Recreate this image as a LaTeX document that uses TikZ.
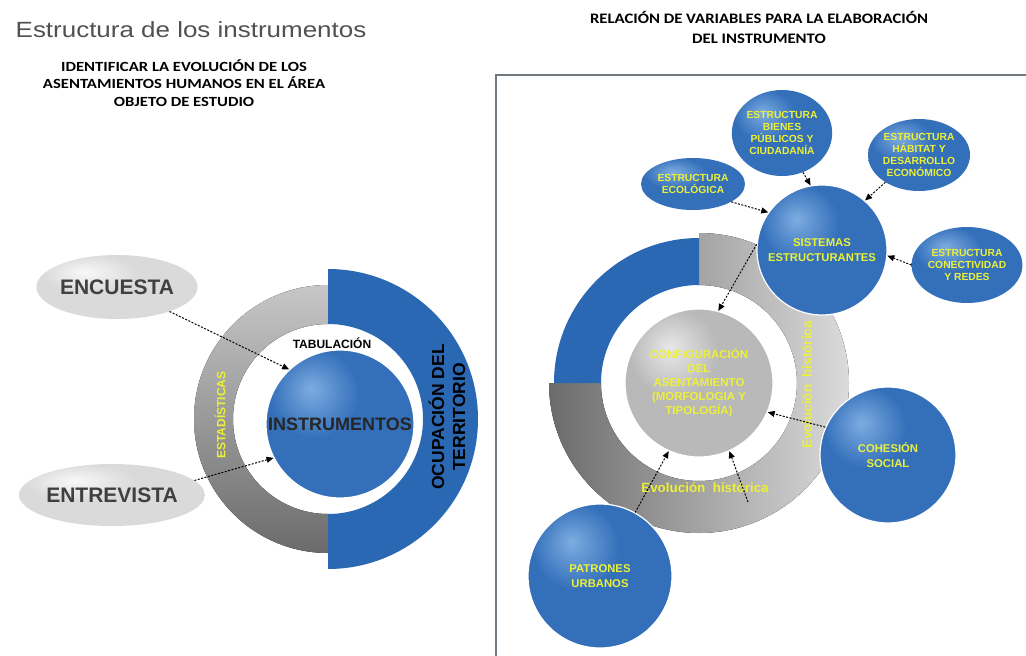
\documentclass[tikz,border=0pt]{standalone}
\usepackage{fontspec}
\setmainfont{Liberation Sans}
\newfontfamily\titlefont[FakeStretch=1.18]{Liberation Sans}
\newfontfamily\headfont[FakeStretch=1.19]{Carlito}
\newfontfamily\relfont[FakeStretch=1.15]{Carlito}
\usepackage{tikz}
\usetikzlibrary{arrows.meta,shapes.geometric}

\definecolor{ringblue}{RGB}{42,104,180}
\definecolor{sphlight}{RGB}{125,172,225}
\definecolor{sphmid}{RGB}{52,112,186}
\definecolor{sphdark}{RGB}{28,70,132}
\definecolor{pearllight}{RGB}{248,248,248}
\definecolor{pearlmid}{RGB}{218,218,218}
\definecolor{pearldark}{RGB}{170,170,170}
\definecolor{silverlight}{RGB}{232,232,232}
\definecolor{silvermid}{RGB}{185,185,185}
\definecolor{silverdark}{RGB}{140,140,140}
\definecolor{textyellow}{RGB}{236,240,56}
\definecolor{titlegray}{RGB}{80,80,80}
\definecolor{framegray}{RGB}{112,122,128}

\pgfdeclareradialshading{bluesphere}{\pgfpoint{-10bp}{12bp}}{color(0bp)=(sphlight);color(15bp)=(sphmid);color(36bp)=(sphmid);color(50bp)=(sphdark);color(100bp)=(sphdark)}
\pgfdeclareradialshading{pearl}{\pgfpoint{-10bp}{12bp}}{color(0bp)=(pearllight);color(15bp)=(pearlmid);color(36bp)=(pearlmid);color(52bp)=(pearldark);color(100bp)=(pearldark)}
\pgfdeclareradialshading{silversphere}{\pgfpoint{-10bp}{12bp}}{color(0bp)=(silverlight);color(15bp)=(silvermid);color(36bp)=(silvermid);color(52bp)=(silverdark);color(100bp)=(silverdark)}

\begin{document}
\begin{tikzpicture}[x=1pt,y=1pt,>={Triangle[length=7pt,width=6pt]},
  blue sphere/.style={circle,shading=bluesphere,draw=white,line width=1.2pt,inner sep=0pt,
    align=center,text=textyellow,font=\bfseries\fontsize{11.3}{15}\selectfont},
  gray sphere/.style={blue sphere,shading=silversphere},
  blue oval/.style={ellipse,shading=bluesphere,inner sep=0pt,align=center,
    text=textyellow,font=\bfseries\fontsize{10.3}{12}\selectfont},
  gray oval/.style={ellipse,shading=pearl,inner sep=0pt,text=black!75,
    font=\bfseries\fontsize{21}{24}\selectfont},
  ring text/.style={text=textyellow,font=\bfseries\fontsize{13.4}{15}\selectfont},
  link/.style={->,dash pattern=on 2pt off 1.5pt,line width=1pt}]

  \useasboundingbox (0,0) rectangle (1026,-656);

  % marco
  \draw[framegray,line width=1.5pt] (496,-656) -- (496,-75) -- (1026,-75);

  % titulos
  \node[font=\titlefont\fontsize{22}{24}\selectfont,text=titlegray] (titulo) at (191,-30) {Estructura de los instrumentos};
  \node[font=\headfont\bfseries\fontsize{14}{17.5}\selectfont,align=center] (objetivo) at (184,-83)
    {IDENTIFICAR LA EVOLUCIÓN DE LOS\\ASENTAMIENTOS HUMANOS EN EL ÁREA\\OBJETO DE ESTUDIO};
  \node[font=\relfont\bfseries\fontsize{14.5}{20}\selectfont,align=center] (relacion) at (759,-27)
    {RELACIÓN DE VARIABLES PARA LA ELABORACIÓN\\DEL INSTRUMENTO};

  % anillo izquierdo
  \fill[top color=black!22,bottom color=black!58] (328,-285) arc[start angle=90,end angle=270,radius=134]
    -- (328,-514) arc[start angle=270,end angle=90,radius=95] -- cycle;
  \fill[ringblue] (328,-569) arc[start angle=-90,end angle=90,radius=150]
    -- (328,-324) arc[start angle=90,end angle=-90,radius=95] -- cycle;

  % anillo derecho
  \fill[left color=black!58,right color=black!14] (699,-233) arc[start angle=90,end angle=-180,radius=150]
    -- (601,-383) arc[start angle=180,end angle=450,radius=98] -- cycle;
  \fill[ringblue] (699,-238) arc[start angle=90,end angle=180,radius=145]
    -- (601,-383) arc[start angle=180,end angle=90,radius=98] -- cycle;

  \node[rotate=90,text=textyellow,font=\bfseries\fontsize{12}{14}\selectfont] (estadisticas) at (220,-415) {ESTADÍSTICAS};
  \node[rotate=90,align=center,font=\bfseries\fontsize{17.5}{21}\selectfont] (ocupacion) at (447,-417) {OCUPACIÓN DEL\\TERRITORIO};
  \node[ring text] (evolucion abajo) at (705,-488) {Evolución\ \ histórica};
  \node[ring text,rotate=90] (evolucion lado) at (807,-385) {Evolución\ \ histórica};
  \coordinate (inicio evolucion) at (748,-502);

  % nodos izquierda
  \node[blue sphere,minimum size=148,text=black!85,font=\bfseries\fontsize{18}{20}\selectfont] (instrumentos) at (340,-424) {INSTRUMENTOS};
  \node[font=\bfseries\fontsize{12}{14}\selectfont] (tabulacion) at (332,-343) {TABULACIÓN};
  \node[gray oval,minimum width=140,minimum height=64] (encuesta) at (117,-287) {ENCUESTA};
  \node[gray oval,minimum width=144,minimum height=62] (entrevista) at (112,-495) {ENTREVISTA};

  % nodos derecha
  \node[gray sphere,minimum size=148,font=\bfseries\fontsize{11.5}{14}\selectfont] (configuracion) at (699,-383)
    {CONFIGURACIÓN\\DEL\\ASENTAMIENTO\\(MORFOLOGIA Y\\TIPOLOGÍA)};
  \node[blue sphere,minimum size=130] (sistemas) at (822,-250) {SISTEMAS\\ESTRUCTURANTES};
  \node[blue sphere,minimum size=136] (cohesion) at (888,-455) {COHESIÓN\\SOCIAL};
  \node[blue sphere,minimum size=144] (patrones) at (600,-576) {PATRONES\\URBANOS};
  \node[blue oval,minimum width=104,minimum height=52] (ecologica) at (693,-184) {ESTRUCTURA\\ECOLÓGICA};
  \node[blue oval,minimum width=100,minimum height=86] (bienes) at (782,-133) {ESTRUCTURA\\BIENES\\PÚBLICOS Y\\CIUDADANÍA};
  \node[blue oval,minimum width=102,minimum height=72] (habitat) at (919,-155) {ESTRUCTURA\\HÁBITAT Y\\DESARROLLO\\ECONÓMICO};
  \node[blue oval,minimum width=110,minimum height=76] (conectividad) at (967,-265) {ESTRUCTURA\\CONECTIVIDAD\\Y REDES};

  \path[link]
    (encuesta.-25) edge (instrumentos.133)
    (entrevista.10) edge (instrumentos.207)

    (ecologica.-25) edge (sistemas.145)
    (bienes.-62) edge (sistemas.100)
    (habitat.219) edge (sistemas.49)
    (conectividad.180) edge (sistemas.-5)
    (sistemas.175) edge (configuracion.75)
    (cohesion.156) edge (configuracion.-23)
    (patrones.61) edge (configuracion.246)
    (inicio evolucion) edge (configuracion.-66);
\end{tikzpicture}
\end{document}
